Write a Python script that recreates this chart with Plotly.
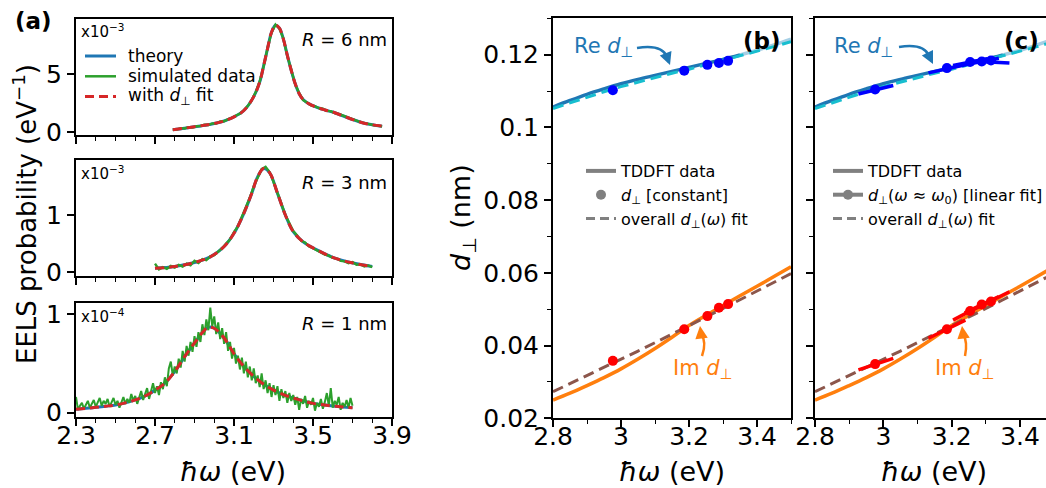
import numpy as np
import plotly.graph_objects as go

W, H = 1046, 488

# ---------------- Panel (a) data (EELS probability) ----------------
# R = 6 nm  (x10^-3)
r6_x = [2.79, 2.85, 2.90, 2.95, 3.00, 3.05, 3.10, 3.15, 3.20, 3.23, 3.25, 3.27, 3.29, 3.31,
        3.33, 3.35, 3.37, 3.39, 3.41, 3.43, 3.45, 3.48, 3.52, 3.56, 3.60, 3.65, 3.70, 3.75, 3.80, 3.85]
r6_theory = [0.20, 0.33, 0.45, 0.58, 0.73, 0.95, 1.30, 1.85, 3.05, 4.30, 5.70, 7.20, 8.60, 9.20,
             8.95, 8.00, 6.60, 5.30, 4.15, 3.30, 2.80, 2.42, 2.12, 1.90, 1.72, 1.40, 1.08, 0.80, 0.62, 0.50]
r6_sim_x = [2.79, 2.81, 2.83, 2.85, 2.87, 2.89, 2.91, 2.93, 2.95, 2.97, 2.99, 3.01, 3.03, 3.05,
            3.07, 3.09, 3.11, 3.13, 3.15, 3.17, 3.19, 3.21, 3.23, 3.25, 3.27, 3.29, 3.31, 3.33,
            3.35, 3.37, 3.39, 3.41, 3.43, 3.45, 3.47, 3.49, 3.51, 3.53, 3.55, 3.57, 3.59, 3.61,
            3.63, 3.65, 3.67, 3.69, 3.71, 3.73, 3.75, 3.77, 3.79, 3.81, 3.83, 3.85]
r6_sim = [0.22, 0.20, 0.33, 0.30, 0.42, 0.38, 0.49, 0.50, 0.62, 0.60, 0.74, 0.72, 0.90, 0.93,
          1.10, 1.22, 1.42, 1.58, 1.88, 2.25, 2.75, 3.45, 4.35, 5.65, 7.25, 8.55, 9.25, 8.90,
          8.05, 6.55, 5.35, 4.10, 3.35, 2.75, 2.55, 2.30, 2.22, 2.05, 2.00, 1.82, 1.80, 1.62,
          1.55, 1.45, 1.30, 1.18, 1.02, 0.92, 0.80, 0.70, 0.66, 0.58, 0.55, 0.48]

# R = 3 nm  (x10^-3)
r3_x = [2.70, 2.80, 2.90, 2.98, 3.05, 3.10, 3.15, 3.19, 3.22, 3.25, 3.28, 3.32, 3.36, 3.40,
        3.45, 3.52, 3.60, 3.69, 3.80]
r3_theory = [0.07, 0.10, 0.17, 0.27, 0.45, 0.68, 1.03, 1.38, 1.67, 1.81, 1.74, 1.38, 1.00, 0.71,
             0.53, 0.39, 0.26, 0.17, 0.10]
r3_sim_x = [2.70, 2.72, 2.74, 2.76, 2.78, 2.80, 2.82, 2.84, 2.86, 2.88, 2.90, 2.92, 2.94, 2.96,
            2.98, 3.00, 3.02, 3.04, 3.06, 3.08, 3.10, 3.12, 3.14, 3.16, 3.18, 3.20, 3.22, 3.24,
            3.26, 3.28, 3.30, 3.32, 3.34, 3.36, 3.38, 3.40, 3.42, 3.44, 3.46, 3.48, 3.50, 3.52,
            3.54, 3.56, 3.58, 3.60, 3.62, 3.64, 3.66, 3.68, 3.70, 3.72, 3.74, 3.76, 3.78, 3.80]
r3_sim = [0.15, 0.05, 0.09, 0.06, 0.11, 0.08, 0.13, 0.10, 0.15, 0.12, 0.20, 0.16, 0.23, 0.21,
          0.28, 0.30, 0.36, 0.42, 0.50, 0.57, 0.70, 0.80, 0.97, 1.12, 1.30, 1.50, 1.66, 1.80,
          1.84, 1.75, 1.58, 1.38, 1.20, 1.00, 0.86, 0.72, 0.64, 0.55, 0.52, 0.45, 0.42, 0.38,
          0.35, 0.31, 0.29, 0.25, 0.24, 0.20, 0.19, 0.16, 0.18, 0.13, 0.14, 0.10, 0.12, 0.09]

# R = 1 nm  (x10^-4)
r1_x = [2.30, 2.35, 2.40, 2.45, 2.50, 2.55, 2.60, 2.65, 2.70, 2.75, 2.80, 2.85, 2.90, 2.95,
        2.97, 3.00, 3.05, 3.10, 3.15, 3.20, 3.25, 3.30, 3.35, 3.40, 3.45, 3.50, 3.55, 3.60, 3.65, 3.70]
r1_theory = [0.034, 0.044, 0.055, 0.066, 0.078, 0.10, 0.13, 0.17, 0.23, 0.30, 0.42, 0.57, 0.71, 0.84,
             0.87, 0.86, 0.76, 0.60, 0.47, 0.37, 0.29, 0.23, 0.185, 0.15, 0.12, 0.095, 0.08, 0.068, 0.058, 0.05]
r1_sim_x = np.round(np.arange(2.30, 3.7001, 0.01), 2)
r1_sim = [0.16, 0.03, 0.07, 0.10, 0.04, 0.08, 0.12, 0.05, 0.09, 0.13,
          0.06, 0.10, 0.15, 0.07, 0.12, 0.09, 0.14, 0.06, 0.11, 0.15,
          0.08, 0.12, 0.05, 0.11, 0.16, 0.09, 0.14, 0.10, 0.19, 0.12,
          0.17, 0.09, 0.15, 0.22, 0.13, 0.19, 0.25, 0.14, 0.22, 0.30,
          0.20, 0.27, 0.18, 0.31, 0.24, 0.36, 0.27, 0.45, 0.52, 0.38,
          0.47, 0.40, 0.55, 0.46, 0.63, 0.52, 0.68, 0.58, 0.72, 0.62,
          0.78, 0.67, 0.82, 0.72, 0.90, 0.79, 0.95, 0.84, 1.07, 0.88,
          0.98, 0.80, 0.92, 0.75, 0.86, 0.70, 0.82, 0.63, 0.72, 0.55,
          0.66, 0.50, 0.58, 0.44, 0.56, 0.40, 0.52, 0.36, 0.47, 0.33,
          0.45, 0.30, 0.38, 0.26, 0.40, 0.24, 0.33, 0.20, 0.30, 0.16,
          0.28, 0.18, 0.27, 0.12, 0.24, 0.15, 0.22, 0.10, 0.20, 0.12,
          0.18, 0.08, 0.16, 0.03, 0.14, 0.09, 0.17, 0.05, 0.12, 0.08,
          0.15, 0.02, 0.10, 0.06, 0.14, 0.04, 0.11, 0.20, 0.07, 0.25,
          0.05, 0.12, 0.08, 0.16, 0.03, 0.10, 0.06, 0.13, 0.05, 0.15, 0.07]

# ---------------- Panels (b), (c) data (d_perp, nm) ----------------
w_x = [2.80, 2.85, 2.90, 2.95, 3.00, 3.05, 3.10, 3.15, 3.20, 3.25, 3.30, 3.35, 3.40, 3.45, 3.50]
re_tddft = [0.1056, 0.1074, 0.1091, 0.1106, 0.1120, 0.1132, 0.1143, 0.1154, 0.1165, 0.1176,
            0.1187, 0.1199, 0.1212, 0.1227, 0.1243]
re_fit = [0.1052, 0.1068, 0.1084, 0.1098, 0.1112, 0.1125, 0.1137, 0.1149, 0.1160, 0.1172,
          0.1184, 0.1196, 0.1209, 0.1222, 0.1236]
im_tddft = [0.0250, 0.0269, 0.0290, 0.0312, 0.0336, 0.0363, 0.0392, 0.0423, 0.0455, 0.0483,
            0.0510, 0.0537, 0.0563, 0.0590, 0.0617]
im_fit = [0.0273, 0.0295, 0.0317, 0.0339, 0.0362, 0.0385, 0.0408, 0.0431, 0.0454, 0.0478,
          0.0502, 0.0526, 0.0550, 0.0574, 0.0598]
split_idx = 11  # TDDFT beyond ~3.35 eV drawn lighter

w0 = [2.976, 3.186, 3.254, 3.288, 3.315]
re_const = [0.1102, 0.1156, 0.1172, 0.1177, 0.1183]
im_const = [0.0358, 0.0445, 0.0481, 0.0504, 0.0514]
re_lin = [0.1104, 0.1163, 0.1180, 0.1181, 0.1184]
im_lin = [0.0349, 0.0445, 0.0495, 0.0513, 0.0521]
seg_lo = [2.927, 3.132, 3.204, 3.238, 3.265]
seg_hi = [3.029, 3.240, 3.304, 3.338, 3.369]
re_seg_lo = [0.1092, 0.1150, 0.1170, 0.1172, 0.1182]
re_seg_hi = [0.1115, 0.1172, 0.1189, 0.1190, 0.1177]
im_seg_lo = [0.0333, 0.0420, 0.0470, 0.0490, 0.0500]
im_seg_hi = [0.0365, 0.0470, 0.0520, 0.0535, 0.0548]

# ---------------- styling ----------------
FONT = "DejaVu Sans"
C_BLUE, C_GREEN, C_RED = "#1f77b4", "#2ca02c", "#d62728"
C_ORANGE, C_CYAN, C_BROWN = "#ff7f0e", "#17becf", "#8c564b"
C_LIGHT = "#a6cfe5"
GRAY = "#808080"


def px(x):
    return x / W


def py(y):
    return 1 - y / H


fig = go.Figure()

# ---- panel (a) traces ----
panels_a = [
    ("x", "y", r6_x, r6_theory, r6_sim_x, r6_sim, 2.4),
    ("x2", "y2", r3_x, r3_theory, r3_sim_x, r3_sim, 2.4),
    ("x3", "y3", r1_x, r1_theory, list(r1_sim_x), r1_sim, 2.0),
]
for i, (xa, ya, tx, ty, sx, sy, gw) in enumerate(panels_a):
    fig.add_trace(go.Scatter(x=tx, y=ty, xaxis=xa, yaxis=ya, mode="lines", line_shape="spline",
                             line=dict(color=C_BLUE, width=3), name="theory", showlegend=False))
    fig.add_trace(go.Scatter(x=sx, y=sy, xaxis=xa, yaxis=ya, mode="lines",
                             line=dict(color=C_GREEN, width=gw), name="simulated data",
                             showlegend=False))
    fig.add_trace(go.Scatter(x=tx, y=ty, xaxis=xa, yaxis=ya, mode="lines", line_shape="spline",
                             line=dict(color=C_RED, width=3, dash="9px,5px"),
                             name="with d fit", showlegend=False))

# ---- panels (b) and (c) ----
for xa, ya in [("x4", "y4"), ("x5", "y5")]:
    fig.add_trace(go.Scatter(x=w_x[split_idx:], y=re_tddft[split_idx:], xaxis=xa, yaxis=ya,
                             mode="lines", line_shape="spline", line=dict(color=C_LIGHT, width=3.5),
                             showlegend=False))
    fig.add_trace(go.Scatter(x=w_x[:split_idx + 1], y=re_tddft[:split_idx + 1], xaxis=xa, yaxis=ya,
                             mode="lines", line_shape="spline", line=dict(color=C_BLUE, width=3.5),
                             showlegend=False))
    fig.add_trace(go.Scatter(x=w_x, y=re_fit, xaxis=xa, yaxis=ya, mode="lines",
                             line=dict(color=C_CYAN, width=3, dash="11px,6px"), showlegend=False))
    fig.add_trace(go.Scatter(x=w_x, y=im_tddft, xaxis=xa, yaxis=ya, mode="lines",
                             line_shape="spline", line=dict(color=C_ORANGE, width=3.5),
                             showlegend=False))
    fig.add_trace(go.Scatter(x=w_x, y=im_fit, xaxis=xa, yaxis=ya, mode="lines",
                             line=dict(color=C_BROWN, width=3, dash="11px,6px"), showlegend=False))

# (b) constant d_perp dots
fig.add_trace(go.Scatter(x=w0, y=re_const, xaxis="x4", yaxis="y4", mode="markers",
                         marker=dict(color="#0000ff", size=10), showlegend=False))
fig.add_trace(go.Scatter(x=w0, y=im_const, xaxis="x4", yaxis="y4", mode="markers",
                         marker=dict(color="#ff0000", size=10), showlegend=False))


# (c) linear fits around each point
def segs(lo, hi, ylo, yhi):
    xs, ys = [], []
    for a, b, c, d in zip(lo, hi, ylo, yhi):
        xs += [a, b, None]
        ys += [c, d, None]
    return xs, ys


sx, sy = segs(seg_lo, seg_hi, re_seg_lo, re_seg_hi)
fig.add_trace(go.Scatter(x=sx, y=sy, xaxis="x5", yaxis="y5", mode="lines",
                         line=dict(color="#0000ff", width=3.5), showlegend=False))
fig.add_trace(go.Scatter(x=w0, y=re_lin, xaxis="x5", yaxis="y5", mode="markers",
                         marker=dict(color="#0000ff", size=10), showlegend=False))
sx, sy = segs(seg_lo, seg_hi, im_seg_lo, im_seg_hi)
fig.add_trace(go.Scatter(x=sx, y=sy, xaxis="x5", yaxis="y5", mode="lines",
                         line=dict(color="#ff0000", width=3.5), showlegend=False))
fig.add_trace(go.Scatter(x=w0, y=im_lin, xaxis="x5", yaxis="y5", mode="markers",
                         marker=dict(color="#ff0000", size=10), showlegend=False))

# legend entries for (b) and (c)
nan = [None]
for lg, second in [("legend2", ("<i>d</i><sub>⊥</sub> [constant]", "markers")),
                   ("legend3", ("<i>d</i><sub>⊥</sub>(<i>ω</i> ≈ <i>ω</i><sub>0</sub>) [linear fit]",
                                "lines+markers"))]:
    xa = "x4" if lg == "legend2" else "x5"
    ya = "y4" if lg == "legend2" else "y5"
    fig.add_trace(go.Scatter(x=nan, y=nan, xaxis=xa, yaxis=ya, mode="lines",
                             line=dict(color=GRAY, width=4), name="TDDFT data", legend=lg))
    fig.add_trace(go.Scatter(x=nan, y=nan, xaxis=xa, yaxis=ya, mode=second[1],
                             line=dict(color=GRAY, width=4), marker=dict(color=GRAY, size=10),
                             name=second[0], legend=lg))
    fig.add_trace(go.Scatter(x=nan, y=nan, xaxis=xa, yaxis=ya, mode="lines",
                             line=dict(color=GRAY, width=3, dash="9px,5px"),
                             name="overall <i>d</i><sub>⊥</sub>(<i>ω</i>) fit", legend=lg))

# ---------------- axes ----------------
TICKF = dict(family=FONT, size=25, color="black")
common = dict(showline=True, linecolor="black", linewidth=2, ticks="outside", ticklen=7,
              tickwidth=1.6, tickcolor="black", showgrid=False, zeroline=False, tickfont=TICKF,
              automargin=False)

xa_dom = [px(76), px(392)]
a_y_doms = [[py(135), py(19)], [py(276), py(160)], [py(417.3), py(302.7)]]
a_y_ranges = [[-0.26, 9.74], [-0.065, 1.96], [-0.047, 1.12]]
a_y_ticks = [[0, 5], [0, 1], [0, 1]]
layout_axes = {}
for i in range(3):
    s = "" if i == 0 else str(i + 1)
    layout_axes["xaxis" + s] = dict(common, domain=xa_dom, range=[2.3, 3.9], anchor="y" + s,
                                    tickvals=[2.3, 2.7, 3.1, 3.5, 3.9], showticklabels=(i == 2),
                                    mirror=True, ticklabelstandoff=-12,
                                    minor=dict(ticks="outside", ticklen=4, dtick=0.1, tick0=2.3,
                                               tickwidth=1.4, tickcolor="black"))
    layout_axes["yaxis" + s] = dict(common, domain=a_y_doms[i], range=a_y_ranges[i],
                                    anchor="x" + s, tickvals=a_y_ticks[i], mirror=True)

bc_ydom = [py(418.3), py(18.3)]
ytv = [0.02, 0.04, 0.06, 0.08, 0.10, 0.12]
ytt = ["0.02", "0.04", "0.06", "0.08", "0.1", "0.12"]
xtv = [2.8, 3.0, 3.2, 3.4]
xtt = ["2.8", "3", "3.2", "3.4"]
xminor = dict(ticks="outside", ticklen=4, dtick=0.1, tick0=2.8, tickwidth=1.4, tickcolor="black")
yminor = dict(ticks="outside", ticklen=4, dtick=0.01, tick0=0.02, tickwidth=1.4, tickcolor="black")
layout_axes["xaxis4"] = dict(common, domain=[px(553), px(791)], range=[2.8, 3.5], anchor="y4",
                             tickvals=xtv, ticktext=xtt, mirror=True, minor=xminor,
                             ticklabelstandoff=-12)
layout_axes["yaxis4"] = dict(common, domain=bc_ydom, range=[0.02, 0.13], anchor="x4",
                             tickvals=ytv, ticktext=ytt, mirror=True, minor=yminor)
layout_axes["xaxis5"] = dict(common, domain=[px(815), 1.0], range=[2.8, 3.476], anchor="y5",
                             tickvals=xtv, ticktext=xtt, mirror=True, minor=xminor,
                             ticklabelstandoff=-12)
layout_axes["yaxis5"] = dict(common, domain=bc_ydom, range=[0.02, 0.13], anchor="x5",
                             tickvals=ytv, showticklabels=False, mirror=False, minor=yminor)

fig.update_layout(**layout_axes)

# ---------------- annotations ----------------
ann = []
shapes = []


def text(x, y, t, size, xanchor="center", yanchor="middle", color="black", angle=0):
    ann.append(dict(x=px(x), y=py(y), xref="paper", yref="paper", text=t, showarrow=False,
                    xanchor=xanchor, yanchor=yanchor, textangle=angle,
                    font=dict(family=FONT, size=size, color=color)))


text(33, 21, "<b>(a)</b>", 23)
text(762, 41, "<b>(b)</b>", 23)
text(1021, 41, "<b>(c)</b>", 23)
text(79, 31, "x10<sup>−3</sup>", 15, xanchor="left")
text(79, 173, "x10<sup>−3</sup>", 15, xanchor="left")
text(79, 316, "x10<sup>−4</sup>", 15, xanchor="left")
text(389, 40, "<i>R</i> = 6 nm", 18, xanchor="right")
text(389, 182, "<i>R</i> = 3 nm", 18, xanchor="right")
text(389, 323, "<i>R</i> = 1 nm", 18, xanchor="right")
text(25, 214, "EELS probability (eV<sup>−1</sup>)", 26, angle=-90)
text(462, 218, "<i>d</i><sub>⊥</sub> (nm)", 27, angle=-90)
text(233, 471, "<i>ħω</i> (eV)", 27)
text(672, 471, "<i>ħω</i> (eV)", 27)
text(934, 471, "<i>ħω</i> (eV)", 27)
text(603, 47, "Re <i>d</i><sub>⊥</sub>", 21, color=C_BLUE)
text(863, 47, "Re <i>d</i><sub>⊥</sub>", 21, color=C_BLUE)
text(702, 369, "Im <i>d</i><sub>⊥</sub>", 21, color=C_ORANGE)
text(964, 369, "Im <i>d</i><sub>⊥</sub>", 21, color=C_ORANGE)

# manual legend for panel (a)
leg_a = [("theory", C_BLUE, 3, "solid"),
         ("simulated data", C_GREEN, 2.5, "solid"),
         ("with <i>d</i><sub>⊥</sub> fit", C_RED, 3, "9px,5px")]
for k, (lab, col, lw, dash) in enumerate(leg_a):
    yy = 56 + 20.3 * k
    shapes.append(dict(type="line", xref="paper", yref="paper", x0=px(85), x1=px(116),
                       y0=py(yy), y1=py(yy), line=dict(color=col, width=lw, dash=dash)))
    text(126, yy, lab, 17, xanchor="left")


def curved_arrow(p0, c, p1, tip, color):
    path = "M {},{} Q {},{} {},{}".format(px(p0[0]), py(p0[1]), px(c[0]), py(c[1]),
                                          px(p1[0]), py(p1[1]))
    shapes.append(dict(type="path", path=path, xref="paper", yref="paper",
                       line=dict(color=color, width=2.5)))
    ann.append(dict(x=px(tip[0]), y=py(tip[1]), xref="paper", yref="paper", text="",
                    showarrow=True, arrowhead=2, arrowsize=1, arrowwidth=2.5, arrowcolor=color,
                    ax=p1[0] - tip[0], ay=p1[1] - tip[1], standoff=0))


curved_arrow((637, 48), (662, 44), (667, 57), (670, 65), C_BLUE)
curved_arrow((899, 47), (924, 43), (929, 56), (933, 64), C_BLUE)
curved_arrow((702, 356), (707, 342), (701, 334), (700, 326), C_ORANGE)
curved_arrow((965, 356), (968, 342), (963, 334), (962, 326), C_ORANGE)

legend_common = dict(bgcolor="rgba(0,0,0,0)", borderwidth=0, xanchor="left", yanchor="top",
                     tracegroupgap=0, itemwidth=30)
fig.update_layout(
    width=W, height=H, margin=dict(l=0, r=0, t=0, b=0, autoexpand=False),
    paper_bgcolor="white", plot_bgcolor="white",
    font=dict(family=FONT, color="black"),
    annotations=ann, shapes=shapes,
    legend2=dict(legend_common, x=px(581), y=py(154), font=dict(family=FONT, size=16)),
    legend3=dict(legend_common, x=px(828), y=py(154), font=dict(family=FONT, size=16)),
)

fig.write_html("out.html", config={"displayModeBar": False},
               post_script="document.body.style.margin='0';document.body.style.overflow='hidden';")
